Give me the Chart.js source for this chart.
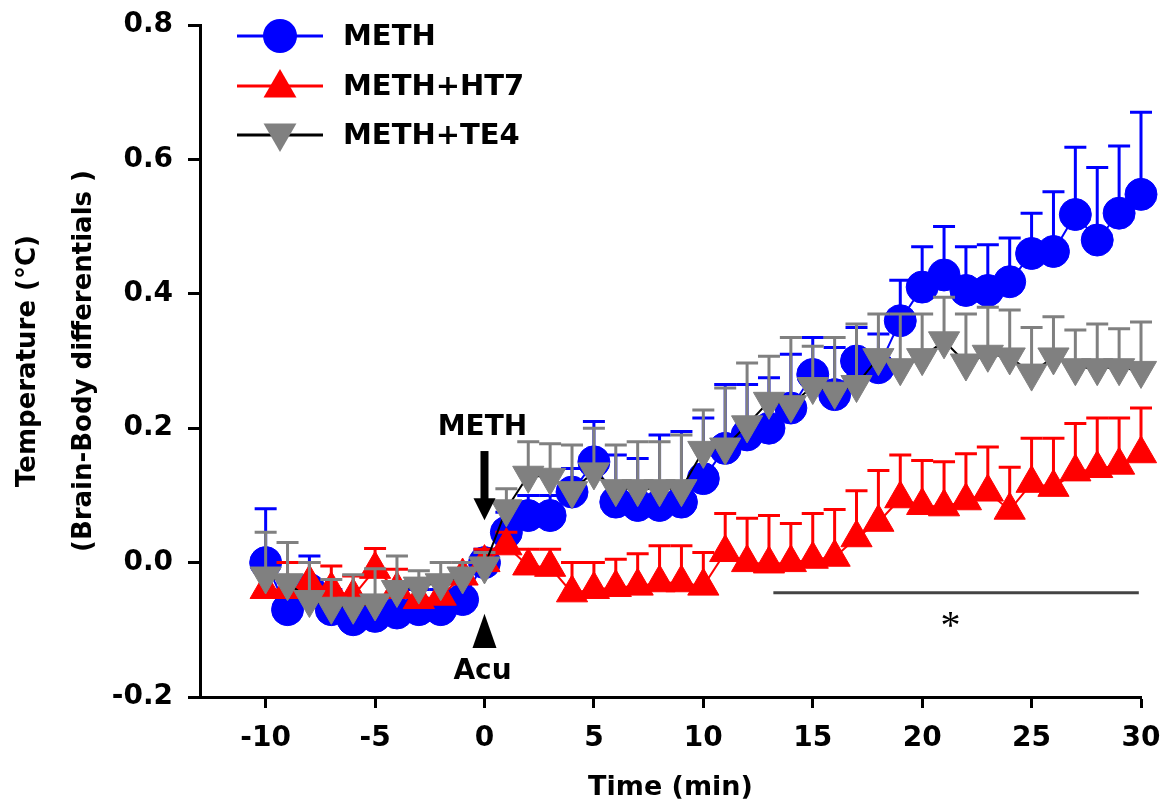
<!DOCTYPE html>
<html><head><meta charset="utf-8">
<script src="https://cdn.jsdelivr.net/npm/chart.js@4.4.1/dist/chart.umd.min.js"></script>
<style>html,body{margin:0;padding:0;background:#fff;}#wrap{width:1169px;height:810px;}</style>
</head><body><div id="wrap"><canvas id="c" width="1169" height="810"></canvas></div>
<script>
// ---- data ----
const times = [-10,-9,-8,-7,-6,-5,-4,-3,-2,-1,0,1,2,3,4,5,6,7,8,9,10,11,12,13,14,15,16,17,18,19,20,21,22,23,24,25,26,27,28,29,30];
const methMean = [0.0,-0.07,-0.04,-0.07,-0.085,-0.08,-0.075,-0.07,-0.07,-0.055,0.0,0.045,0.07,0.07,0.105,0.15,0.09,0.085,0.085,0.09,0.125,0.17,0.19,0.2,0.23,0.28,0.25,0.3,0.29,0.36,0.41,0.428,0.405,0.405,0.418,0.46,0.463,0.518,0.48,0.52,0.548];
const methSem  = [0.08,0.04,0.05,0.03,0.03,0.03,0.03,0.03,0.03,0.03,0.02,0.03,0.03,0.03,0.035,0.06,0.07,0.07,0.105,0.105,0.09,0.095,0.075,0.075,0.08,0.055,0.07,0.05,0.05,0.06,0.06,0.072,0.065,0.068,0.065,0.06,0.089,0.1,0.108,0.1,0.122];
const ht7Mean  = [-0.04,-0.04,-0.03,-0.04,-0.05,-0.01,-0.04,-0.055,-0.05,-0.02,0.0,0.025,-0.005,-0.007,-0.045,-0.04,-0.037,-0.035,-0.03,-0.03,-0.035,0.015,0.0,-0.002,0.0,0.005,0.008,0.037,0.06,0.095,0.085,0.083,0.092,0.105,0.078,0.118,0.112,0.135,0.14,0.145,0.162];
const ht7Sem   = [0.03,0.04,0.03,0.035,0.03,0.031,0.03,0.03,0.03,0.02,0.02,0.02,0.025,0.027,0.045,0.04,0.042,0.048,0.055,0.055,0.05,0.058,0.066,0.072,0.058,0.068,0.071,0.07,0.077,0.065,0.067,0.067,0.07,0.067,0.064,0.067,0.073,0.072,0.075,0.07,0.068];
const te4Mean  = [-0.02,-0.03,-0.055,-0.065,-0.065,-0.06,-0.04,-0.035,-0.03,-0.02,-0.005,0.08,0.13,0.127,0.107,0.135,0.11,0.11,0.11,0.11,0.167,0.172,0.205,0.24,0.235,0.262,0.255,0.265,0.305,0.29,0.305,0.33,0.297,0.31,0.306,0.282,0.306,0.29,0.29,0.29,0.286];
const te4Sem   = [0.065,0.06,0.055,0.04,0.047,0.051,0.05,0.023,0.03,0.02,0.02,0.03,0.05,0.05,0.068,0.065,0.065,0.07,0.07,0.08,0.06,0.088,0.092,0.067,0.1,0.06,0.08,0.09,0.065,0.08,0.065,0.065,0.073,0.07,0.07,0.068,0.06,0.056,0.065,0.058,0.072];
const seriesNames = ['METH','METH+HT7','METH+TE4'];
const xTicks = [-10,-5,0,5,10,15,20,25,30];
const xTickLabels = ['-10','-5','0','5','10','15','20','25','30'];
const yTicks = [-0.2,0,0.2,0.4,0.6,0.8];
const yTickLabels = ['-0.2','0.0','0.2','0.4','0.6','0.8'];
const xRange = [-13,30];
const yRange = [-0.2,0.8];
// annotations (data units)
const sigLine = {x0:13.2, x1:29.9, y:-0.045, starX:21.3, starY:-0.082};
const methArrow = {x:0, yTop:0.166, yTip:0.063, labelY:0.2, label:'METH'};
const acuMark = {x:0, yTip:-0.076, yBase:-0.127, labelY:-0.162, label:'Acu'};

const FONT = "'DejaVu Sans', sans-serif";
const sems = [methSem, ht7Sem, te4Sem];
const colors = ['#0000ff','#ff0000','#808080'];

const pts = arr => times.map((t,i)=>({x:t,y:arr[i]}));

const errorBars = {
  id:'errorBars',
  beforeDatasetDraw(chart, args){
    const i = args.index, sem = sems[i];
    const ds = chart.data.datasets[i];
    const xs = chart.scales.x, ys = chart.scales.y, ctx = chart.ctx;
    ctx.save();
    ctx.strokeStyle = colors[i]; ctx.lineWidth = 3; ctx.lineCap='butt';
    ds.data.forEach((p,k)=>{
      const px = xs.getPixelForValue(p.x);
      const py = ys.getPixelForValue(p.y);
      const pt = ys.getPixelForValue(p.y + sem[k]);
      ctx.beginPath(); ctx.moveTo(px,py); ctx.lineTo(px,pt);
      ctx.moveTo(px-11,pt); ctx.lineTo(px+11,pt); ctx.stroke();
    });
    ctx.restore();
  }
};

function marker(ctx, kind, x, y, r, color){
  ctx.fillStyle = color;
  ctx.beginPath();
  if(kind==='circle'){ ctx.arc(x,y,r,0,Math.PI*2); }
  else {
    const s = kind==='up' ? 1 : -1;
    ctx.moveTo(x, y - s*r);
    ctx.lineTo(x + r*Math.sin(Math.PI*2/3), y + s*r*0.5);
    ctx.lineTo(x - r*Math.sin(Math.PI*2/3), y + s*r*0.5);
    ctx.closePath();
  }
  ctx.fill();
}

const annotations = {
  id:'annotations',
  afterDraw(chart){
    const xs = chart.scales.x, ys = chart.scales.y, ctx = chart.ctx;
    ctx.save();
    // legend
    const rows = [[36,'circle','#0000ff','#0000ff',17],[86,'up','#ff0000','#ff0000',19],[135,'down','#808080','#000000',19]];
    rows.forEach((r,i)=>{
      ctx.strokeStyle = r[3]; ctx.lineWidth = 3;
      ctx.beginPath(); ctx.moveTo(237,r[0]); ctx.lineTo(323,r[0]); ctx.stroke();
      marker(ctx, r[1], 280, r[0]+(r[1]==='up'?2:(r[1]==='down'?-2:0)), r[4], r[2]);
      ctx.fillStyle='#000'; ctx.font = "bold 29px "+FONT; ctx.textBaseline='middle'; ctx.textAlign='left';
      ctx.fillText(seriesNames[i], 343, r[0]+1);
    });
    // significance line
    const ly = ys.getPixelForValue(sigLine.y);
    ctx.strokeStyle='#444'; ctx.lineWidth=3;
    ctx.beginPath(); ctx.moveTo(xs.getPixelForValue(sigLine.x0),ly); ctx.lineTo(xs.getPixelForValue(sigLine.x1),ly); ctx.stroke();
    ctx.fillStyle='#000'; ctx.font = "40px 'Liberation Serif', serif"; ctx.textAlign='center'; ctx.textBaseline='alphabetic';
    ctx.fillText('*', xs.getPixelForValue(sigLine.starX), ys.getPixelForValue(sigLine.starY)+20);
    // METH arrow
    const ax = xs.getPixelForValue(methArrow.x);
    const aTop = ys.getPixelForValue(methArrow.yTop), aTip = ys.getPixelForValue(methArrow.yTip);
    ctx.fillStyle='#000';
    ctx.fillRect(ax-4, aTop, 8, (aTip-aTop)-18);
    ctx.beginPath(); ctx.moveTo(ax-11, aTip-22); ctx.lineTo(ax+11, aTip-22); ctx.lineTo(ax, aTip); ctx.closePath(); ctx.fill();
    ctx.font = "bold 28px "+FONT; ctx.textAlign='center'; ctx.textBaseline='middle';
    ctx.fillText(methArrow.label, ax-2, ys.getPixelForValue(methArrow.labelY));
    // Acu marker
    const tTip = ys.getPixelForValue(acuMark.yTip), tBase = ys.getPixelForValue(acuMark.yBase);
    ctx.beginPath(); ctx.moveTo(ax, tTip); ctx.lineTo(ax+12, tBase); ctx.lineTo(ax-12, tBase); ctx.closePath(); ctx.fill();
    ctx.fillText(acuMark.label, ax-2, ys.getPixelForValue(acuMark.labelY));
    ctx.restore();
  }
};

const tickFont = {family:FONT, size:28, weight:'bold'};
new Chart(document.getElementById('c'), {
  type:'line',
  data:{datasets:[
    {label:seriesNames[0], data:pts(methMean), borderColor:'#0000ff', borderWidth:2, pointStyle:'circle', pointRadius:16, pointBackgroundColor:'#0000ff', pointBorderColor:'#0000ff', pointBorderWidth:1, order:3, clip:false},
    {label:seriesNames[1], data:pts(ht7Mean), borderColor:'#ff0000', borderWidth:2, pointStyle:'triangle', pointRadius:18, pointBackgroundColor:'#ff0000', pointBorderColor:'#ff0000', pointBorderWidth:1, order:2, clip:false},
    {label:seriesNames[2], data:pts(te4Mean), borderColor:'#000000', borderWidth:2, pointStyle:'triangle', pointRotation:180, pointRadius:18, pointBackgroundColor:'#808080', pointBorderColor:'#808080', pointBorderWidth:1, order:1, clip:false}
  ]},
  options:{
    responsive:false, animation:false, devicePixelRatio:1,
    layout:{padding:{top:25,right:28,bottom:0,left:0}},
    plugins:{legend:{display:false}, tooltip:{enabled:false}},
    elements:{line:{tension:0}},
    scales:{
      x:{type:'linear', min:xRange[0], max:xRange[1],
        border:{display:true,color:'#000',width:3},
        grid:{display:true,drawOnChartArea:false,drawTicks:true,tickLength:11,tickWidth:3,tickColor:'#000',color:'#000'},
        afterBuildTicks:s=>{s.ticks = xTicks.map(v=>({value:v}));},
        afterFit:s=>{s.height = 113; s.paddingLeft = 0; s.paddingRight = 0;},
        ticks:{font:tickFont,color:'#000',padding:14,maxRotation:0,autoSkip:false,callback:(v,i)=>xTickLabels[i]},
        title:{display:true,text:'Time (min)',color:'#000',font:{family:FONT,size:27,weight:'bold'},padding:{top:0,bottom:6}}
      },
      y:{type:'linear', min:yRange[0], max:yRange[1],
        border:{display:true,color:'#000',width:3},
        grid:{display:true,drawOnChartArea:false,drawTicks:true,tickLength:12,tickWidth:3,tickColor:'#000',color:'#000'},
        afterBuildTicks:s=>{s.ticks = yTicks.map(v=>({value:v}));},
        afterFit:s=>{s.width = 200; s.paddingTop = 0; s.paddingBottom = 0;},
        ticks:{font:tickFont,color:'#000',padding:15,autoSkip:false,callback:(v,i)=>yTickLabels[i]},
        title:{display:true,text:['Temperature (°C)','(Brain-Body differentials )'],color:'#000',font:{family:FONT,size:26,weight:'bold',lineHeight:2.15},padding:{top:0,bottom:0}}
      }
    }
  },
  plugins:[errorBars, annotations]
});
</script></body></html>
